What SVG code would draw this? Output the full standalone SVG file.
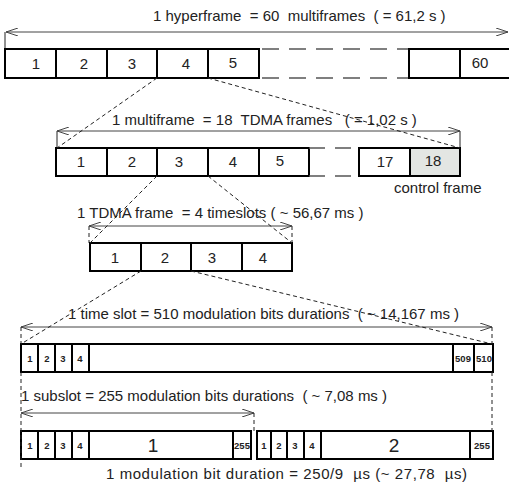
<svg xmlns="http://www.w3.org/2000/svg" width="509" height="491" viewBox="0 0 509 491">
<defs>
<marker id="ah" viewBox="0 0 12 8" refX="12" refY="4" markerWidth="12" markerHeight="8" markerUnits="userSpaceOnUse" orient="auto-start-reverse">
<path d="M0,0 L12,4 L0,8" fill="none" stroke="#444" stroke-width="1"/>
</marker>
<style>
text{font-family:"Liberation Sans",Arial,sans-serif;fill:#222;white-space:pre}
.t{font-size:15px}
.n{font-size:15px;text-anchor:middle}
.s{font-size:9.5px;text-anchor:middle;font-weight:bold}
.big{font-size:19px;text-anchor:middle}
.box{fill:#fff;stroke:#000;stroke-width:2}
.grey{fill:#e3e6e3;stroke:#000;stroke-width:2}
.arr{stroke:#444;stroke-width:1;fill:none;marker-start:url(#ah);marker-end:url(#ah)}
.tick{stroke:#222;stroke-width:1}
.dv{stroke:#000;stroke-width:2}
.dtick{stroke:#222;stroke-width:1;stroke-dasharray:4,3}
.zoom{stroke:#222;stroke-width:1;stroke-dasharray:4,3;fill:none}
.gap{stroke:#555;stroke-width:1.5;stroke-dasharray:17,10;fill:none}
</style>
</defs>

<g id="row1">
<text class="t" x="153" y="21">1 hyperframe  = 60  multiframes  ( = 61,2 s )</text>
<line class="tick" x1="5" y1="32" x2="5" y2="49"/>
<rect class="box" x="5" y="49" width="51" height="29"/>
<rect class="box" x="56" y="49" width="51" height="29"/>
<rect class="box" x="107" y="49" width="50" height="29"/>
<rect class="box" x="157" y="49" width="51" height="29"/>
<rect class="box" x="208" y="49" width="51" height="29"/>
<line class="gap" x1="262" y1="49" x2="409" y2="49"/>
<line class="gap" x1="262" y1="78" x2="409" y2="78"/>
<rect class="box" x="409" y="49" width="51" height="29"/>
<rect class="box" x="460" y="49" width="50" height="29"/>
<text class="n" x="36" y="69">1</text>
<text class="n" x="84" y="69">2</text>
<text class="n" x="132" y="69">3</text>
<text class="n" x="186" y="69">4</text>
<text class="n" x="233" y="68">5</text>
<text class="n" x="480" y="68">60</text>
</g>

<g id="row2">
<text class="t" x="112" y="125">1 multiframe  = 18  TDMA frames   ( = 1,02 s )</text>
<line class="tick" x1="57" y1="131" x2="57" y2="148"/>
<line class="tick" x1="460" y1="131" x2="460" y2="148"/>
<rect class="box" x="56" y="148" width="51" height="28"/>
<rect class="box" x="107" y="148" width="50" height="28"/>
<rect class="box" x="157" y="148" width="51" height="28"/>
<rect class="box" x="208" y="148" width="51" height="28"/>
<rect class="box" x="259" y="148" width="50" height="28"/>
<line class="gap" x1="309" y1="148" x2="359" y2="148" style="stroke-dasharray:16,10"/>
<line class="gap" x1="309" y1="176" x2="359" y2="176" style="stroke-dasharray:16,10"/>
<rect class="box" x="359" y="148" width="51" height="28"/>
<rect class="grey" x="410" y="148" width="50" height="28"/>
<text class="n" x="81" y="167">1</text>
<text class="n" x="132" y="167">2</text>
<text class="n" x="179" y="167">3</text>
<text class="n" x="233" y="167">4</text>
<text class="n" x="280" y="166">5</text>
<text class="n" x="385" y="167">17</text>
<text class="n" x="433" y="166">18</text>
<text class="t" x="394" y="193">control frame</text>
</g>

<g id="row3">
<text class="t" x="77" y="218">1 TDMA frame  = 4 timeslots ( ~ 56,67 ms )</text>
<line class="dtick" x1="89" y1="226" x2="89" y2="243"/>
<line class="dtick" x1="292" y1="226" x2="292" y2="243"/>
<rect class="box" x="90" y="243" width="51" height="28"/>
<rect class="box" x="141" y="243" width="50" height="28"/>
<rect class="box" x="191" y="243" width="51" height="28"/>
<rect class="box" x="242" y="243" width="50" height="28"/>
<text class="n" x="115" y="263">1</text>
<text class="n" x="165" y="263">2</text>
<text class="n" x="212" y="263">3</text>
<text class="n" x="263" y="263">4</text>
</g>

<g id="row4">
<text class="t" x="68" y="319">1 time slot = 510 modulation bits durations  ( ~ 14,167 ms )</text>
<rect class="box" x="21" y="344" width="472" height="28"/>
<line class="dv" x1="38" y1="344" x2="38" y2="372"/>
<line class="dv" x1="55" y1="344" x2="55" y2="372"/>
<line class="dv" x1="72" y1="344" x2="72" y2="372"/>
<line class="dv" x1="89" y1="344" x2="89" y2="372"/>
<line class="dv" x1="453" y1="344" x2="453" y2="372"/>
<line class="dv" x1="474" y1="344" x2="474" y2="372"/>
<text class="s" x="30" y="362">1</text>
<text class="s" x="47" y="362">2</text>
<text class="s" x="63" y="362">3</text>
<text class="s" x="80" y="362">4</text>
<text class="s" x="463" y="362">509</text>
<text class="s" x="484" y="362">510</text>
</g>

<g id="row5">
<text class="t" x="21" y="401">1 subslot = 255 modulation bits durations  ( ~ 7,08 ms )</text>
<rect class="box" x="21" y="431" width="230" height="28"/>
<line class="dv" x1="38" y1="431" x2="38" y2="459"/>
<line class="dv" x1="55" y1="431" x2="55" y2="459"/>
<line class="dv" x1="72" y1="431" x2="72" y2="459"/>
<line class="dv" x1="89" y1="431" x2="89" y2="459"/>
<line class="dv" x1="233" y1="431" x2="233" y2="459"/>
<rect class="box" x="257" y="431" width="236" height="28"/>
<line class="dv" x1="271" y1="431" x2="271" y2="459"/>
<line class="dv" x1="287" y1="431" x2="287" y2="459"/>
<line class="dv" x1="304" y1="431" x2="304" y2="459"/>
<line class="dv" x1="321" y1="431" x2="321" y2="459"/>
<line class="dv" x1="470" y1="431" x2="470" y2="459"/>
<text class="s" x="30" y="449">1</text>
<text class="s" x="47" y="449">2</text>
<text class="s" x="63" y="449">3</text>
<text class="s" x="80" y="449">4</text>
<text class="big" x="153" y="452">1</text>
<text class="s" x="242" y="449">255</text>
<text class="s" x="264" y="449">1</text>
<text class="s" x="279" y="449">2</text>
<text class="s" x="295" y="449">3</text>
<text class="s" x="312" y="449">4</text>
<text class="big" x="394" y="452">2</text>
<text class="s" x="482" y="449">255</text>
<text class="t" x="106" y="479" textLength="361" lengthAdjust="spacing">1 modulation bit duration = 250/9  µs (~ 27,78  µs)</text>
</g>

<g id="connectors">
<line class="arr" x1="6" y1="32" x2="508" y2="32"/>
<line class="arr" x1="57" y1="131" x2="460" y2="131"/>
<line class="arr" x1="89" y1="226" x2="292" y2="226"/>
<line class="arr" x1="21" y1="327" x2="492" y2="327"/>
<line class="arr" x1="21" y1="413" x2="254" y2="413"/>
<line class="zoom" x1="157" y1="78" x2="57" y2="148"/>
<line class="zoom" x1="208" y1="78" x2="460" y2="148"/>
<line class="zoom" x1="157" y1="176" x2="90" y2="243"/>
<line class="zoom" x1="208" y1="176" x2="292" y2="243"/>
<line class="zoom" x1="141" y1="271" x2="21" y2="344"/>
<line class="zoom" x1="191" y1="271" x2="492" y2="344"/>
<line class="dtick" x1="21" y1="327" x2="21" y2="344"/>
<line class="dtick" x1="492" y1="327" x2="492" y2="344"/>
<line class="dtick" x1="21" y1="372" x2="21" y2="470"/>
<line class="dtick" x1="492" y1="372" x2="492" y2="431"/>
<line class="dtick" x1="254" y1="413" x2="254" y2="431"/>
</g>
</svg>
